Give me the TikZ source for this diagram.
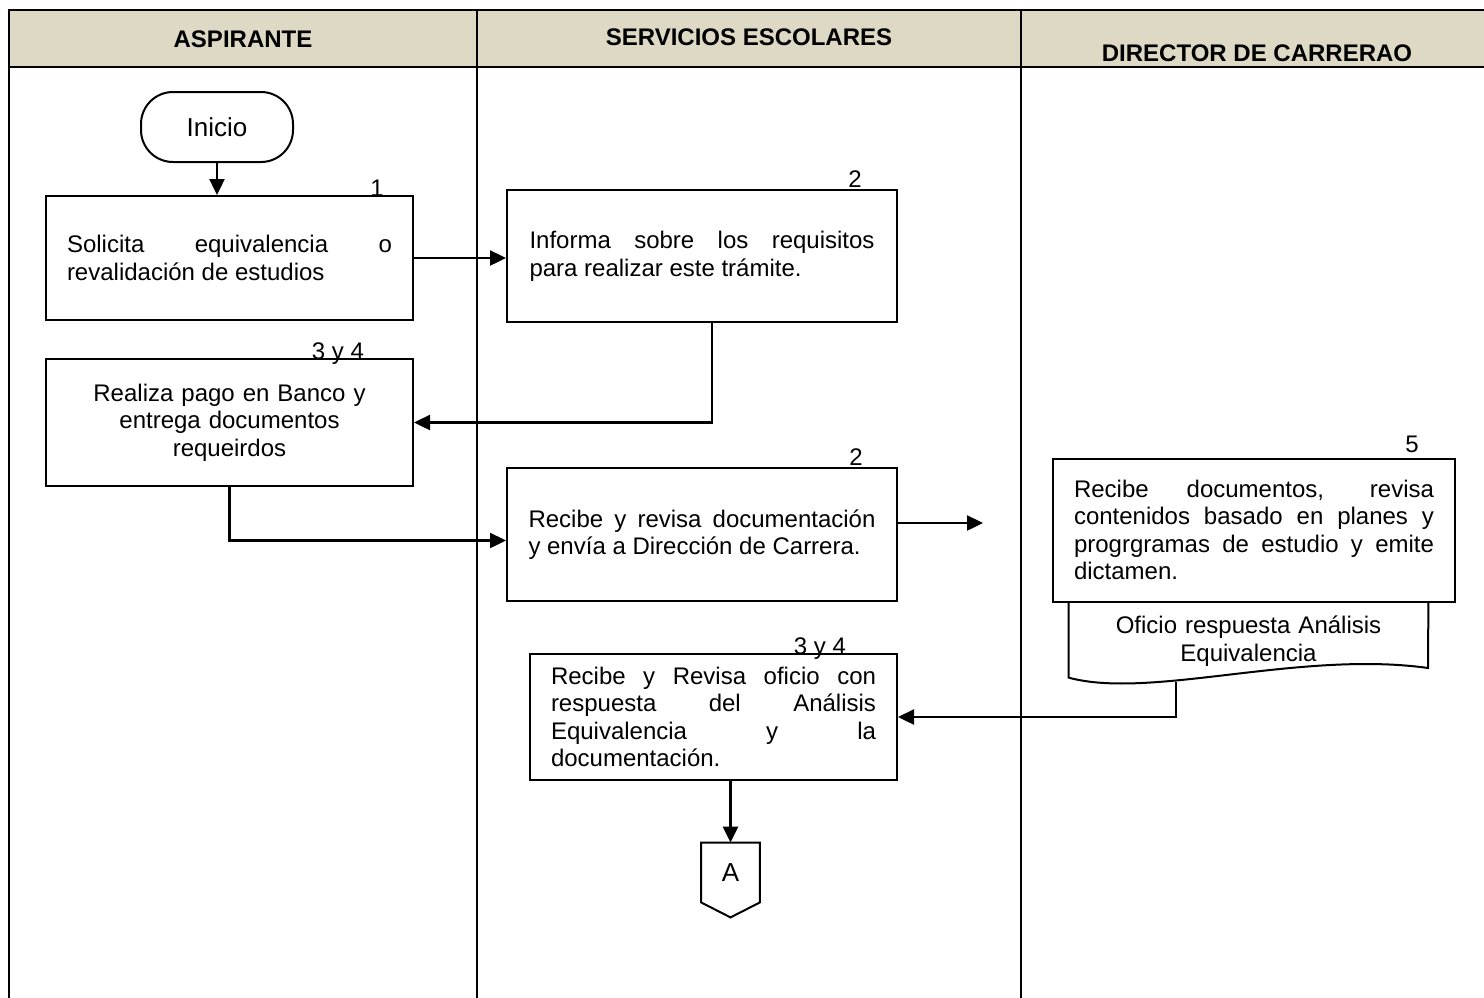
\documentclass[tikz,border=0pt]{standalone}
\usepackage{fontspec}
\setmainfont{Liberation Sans}
\usepackage{tikz}
\usetikzlibrary{arrows.meta}
\definecolor{cabecera}{RGB}{221,217,196}
\newcommand{\txt}{\fontsize{12}{13.8}\selectfont}

\begin{document}
\begin{tikzpicture}[x=0.5pt,y=-0.5pt,
	caja/.style={draw=black,line width=1pt,inner sep=0pt,font=\txt},
	num/.style={anchor=base,inner sep=0pt,font=\txt},
	titulo/.style={inner sep=0pt,font=\txt\bfseries},
	flecha/.style={-{Triangle[length=8pt,width=7.5pt]},line width=1.2pt}]
	\useasboundingbox (0,0) rectangle (1484,997);
	\clip (0,0) rectangle (1484,997);
	% carriles
	\fill[cabecera] (9,10) rectangle (1500,67);
	\draw[line width=1.3pt] (1500,10) -- (9,10) -- (9,1010);
	\draw[line width=1.3pt] (9,67) -- (1500,67);
	\draw[line width=1pt] (477,10) -- (477,1010);
	\draw[line width=1pt] (1021,10) -- (1021,1010);
	\node[titulo] (t1) at (243,39)  {ASPIRANTE};
	\node[titulo] (t2) at (749,37)  {SERVICIOS ESCOLARES};
	\node[titulo] (t3) at (1257,53) {DIRECTOR DE CARRERAO};
	% pasos
	\node[draw=black,line width=1pt,rounded corners=16pt,minimum width=76pt,minimum height=35pt,
		font=\fontsize{13}{15}\selectfont] (inicio) at (217,127) {Inicio};
	\node[caja,minimum width=183.5pt,minimum height=62pt,text width=162.5pt,align=justify]
		(box1) at (229.5,258) {Solicita equivalencia o\linebreak revalidación de estudios};
	\node[caja,minimum width=195pt,minimum height=66pt,text width=172.5pt,align=justify]
		(box2) at (702,256) {Informa sobre los requisitos\linebreak para realizar este trámite.};
	\node[caja,minimum width=183.5pt,minimum height=63.5pt,text width=170pt,align=center]
		(box3) at (229.5,422.5) {Realiza pago en Banco y\\entrega documentos\\requeirdos};
	\node[caja,minimum width=195pt,minimum height=66.5pt,text width=173.5pt,align=justify]
		(box4) at (702,534.5) {Recibe y revisa documentación\linebreak y envía a Dirección de Carrera.};
	\node[caja,minimum width=201pt,minimum height=71.5pt,text width=180pt,align=justify]
		(box5) at (1254,530) {Recibe documentos, revisa\linebreak contenidos basado en planes y\linebreak progrgramas de estudio y emite\linebreak dictamen.};
	\node[inner sep=0pt,minimum width=179.5pt,minimum height=39pt,text width=170pt,align=center,font=\txt]
		(oficio) at (1248.5,641) {Oficio respuesta Análisis\\Equivalencia};
	\draw[line width=1pt] (oficio.north west) -- ++(0,76)
		.. controls (1150,700) and (1300,650) .. (1428,668) -- (oficio.north east);
	\node[caja,minimum width=183.5pt,minimum height=63pt,text width=162.5pt,align=justify]
		(box6) at (713.5,717) {Recibe y Revisa oficio con\linebreak respuesta del Análisis\linebreak Equivalencia y la\linebreak documentación.};
	\node[inner sep=0pt,minimum width=29pt,minimum height=29.5pt,font=\fontsize{13}{15}\selectfont]
		(conA) at (730.5,872.5) {A};
	\draw[line width=1pt] (conA.north west) -- (conA.north east) -- (conA.south east)
		-- ([yshift=-7.5pt]conA.south) -- (conA.south west) -- cycle;
	% numeros
	\node[num] (n1) at (377,196) {1};
	\node[num] (n2) at (855,187) {2};
	\node[num] (n3) at (338,359) {3 y 4};
	\node[num] (n4) at (856,465) {2};
	\node[num] (n5) at (1412,452) {5};
	\node[num] (n6) at (820,654) {3 y 4};
	% conectores
	\coordinate (libre) at (983,523);
	\coordinate (ofsal) at (1176,682);
	\draw[flecha] (inicio.south) -- (inicio.south |- box1.north);
	\draw[flecha] (box1.east) -- (box1.east -| box2.west);
	\draw[flecha] ([xshift=5pt]box2.south) |- (box3.east);
	\draw[flecha] (box3.south) |- ([yshift=-3pt]box4.west);
	\draw[flecha] (box4.east |- libre) -- (libre);
	\draw[flecha] (ofsal) |- (box6.east);
	\draw[flecha] (conA.north |- box6.south) -- (conA.north);
\end{tikzpicture}
\end{document}
